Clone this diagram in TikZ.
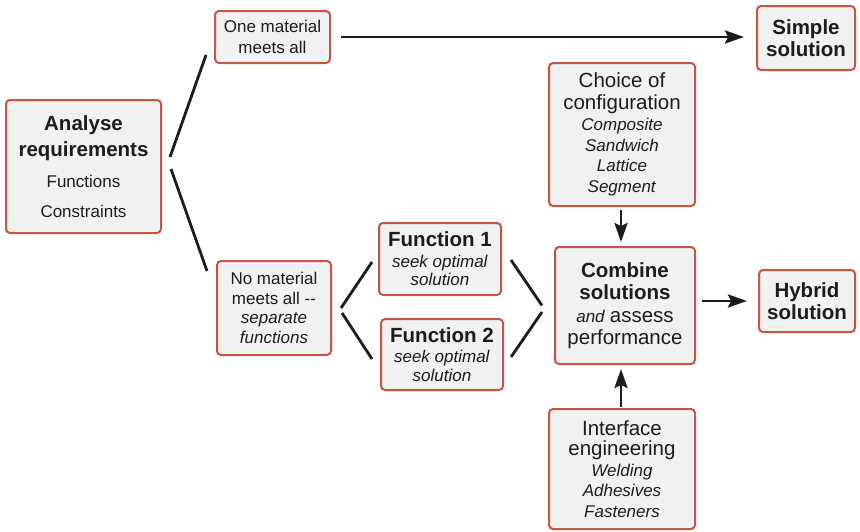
\documentclass[tikz,border=0pt]{standalone}
\usepackage{fontspec}
\setmainfont{Liberation Sans}
\usepackage{xcolor}
\usepackage{tikz}
\usetikzlibrary{arrows.meta,positioning,calc}

\definecolor{boxfill}{RGB}{241,241,241}
\definecolor{boxline}{RGB}{196,86,68}
\definecolor{ink}{RGB}{30,27,28}

\newcommand{\hdfont}{\fontsize{20.5}{23}\selectfont}

\begin{document}
\begin{tikzpicture}[
  x=1pt, y=-1pt,
  every node/.style={font=\fontsize{17}{20.5}\selectfont, text=ink},
  box/.style={rectangle, rounded corners=4pt, draw=boxline, line width=2pt,
    fill=boxfill, align=center, inner sep=0pt},
  branch/.style={line width=2.8pt, ink},
  flow/.style={-{Stealth[length=19pt,width=13pt,inset=3pt]}, line width=2.8pt, ink}
]
\useasboundingbox (0,0) rectangle (860,531);

% Left side
\node[box, minimum width=155, minimum height=133] (analyse) at (83.5,166.5)
  {{\hdfont\bfseries Analyse}\\[5pt]{\hdfont\bfseries requirements}\\[11pt]Functions\\[9pt]Constraints};
\node[box, minimum width=115, minimum height=52] (one) at (272.5,37)
  {One material\\meets all};
\node[box, minimum width=114, minimum height=94] (nomat) at (274,308)
  {No material\\[-1pt]meets all {-}{-}\\[-1pt]\textit{separate}\\[-1pt]\textit{functions}};

% Functions
\node[box, minimum width=122, minimum height=72] (func1) at (440,259)
  {{\hdfont\bfseries Function 1}\\\textit{seek optimal}\\[-2pt]\textit{solution}};
\node[box, minimum width=122, minimum height=71] (func2) at (442,354.5)
  {{\hdfont\bfseries Function 2}\\\textit{seek optimal}\\[-2pt]\textit{solution}};

% Centre column
\node[box, minimum width=146, minimum height=143] (choice) at (622,134.5)
  {{\hdfont Choice of}\\[1pt]{\hdfont configuration}\\[1pt]\textit{Composite}\\\textit{Sandwich}\\\textit{Lattice}\\\textit{Segment}};
\node[box, minimum width=140, minimum height=117] (combine) at (625,305.5)
  {{\hdfont\bfseries Combine}\\[2pt]{\hdfont\bfseries solutions}\\[2pt]\textit{and} {\hdfont assess}\\[2pt]{\hdfont performance}};
\node[box, minimum width=146, minimum height=120] (interface) at (622,469)
  {{\hdfont Interface}\\{\hdfont engineering}\\\textit{Welding}\\\textit{Adhesives}\\\textit{Fasteners}};

% Results
\node[box, minimum width=98, minimum height=64] (simple) at (806,38)
  {{\hdfont\bfseries Simple}\\[1pt]{\hdfont\bfseries solution}};
\node[box, minimum width=96, minimum height=62] (hybrid) at (807,301)
  {{\hdfont\bfseries Hybrid}\\[1pt]{\hdfont\bfseries solution}};

% Branches
\draw[branch] ($(analyse.east)+(8,-9.5)$) -- ($(one.south west)+(-8,-9)$);
\draw[branch] ($(analyse.east)+(9,2.5)$) -- ($(nomat.north west)+(-9,11)$);
\draw[branch] ($(nomat.east)+(9,0)$) -- ($(func1.west)+(-6,3)$);
\draw[branch] ($(nomat.east)+(10,5)$) -- ($(func2.west)+(-8,4.5)$);
\draw[branch] ($(func1.east)+(9,1)$) -- ($(combine.west)+(-12,0)$);
\draw[branch] ($(func2.east)+(7,2.5)$) -- ($(combine.west)+(-12,6.5)$);

% Arrows
\draw[flow, shorten <=10pt, shorten >=12pt] (one.east) -- (one.east -| simple.west);
\draw[flow, shorten <=3pt, shorten >=4pt] ([xshift=-1pt]choice.south) -- ([xshift=-1pt]choice.south |- combine.north);
\draw[flow, shorten <=1pt, shorten >=4pt] ([xshift=-1pt]interface.north) -- ([xshift=-1pt]interface.north |- combine.south);
\draw[flow, shorten <=6pt, shorten >=11pt] (combine.east |- hybrid.west) -- (hybrid.west);

\end{tikzpicture}
\end{document}
